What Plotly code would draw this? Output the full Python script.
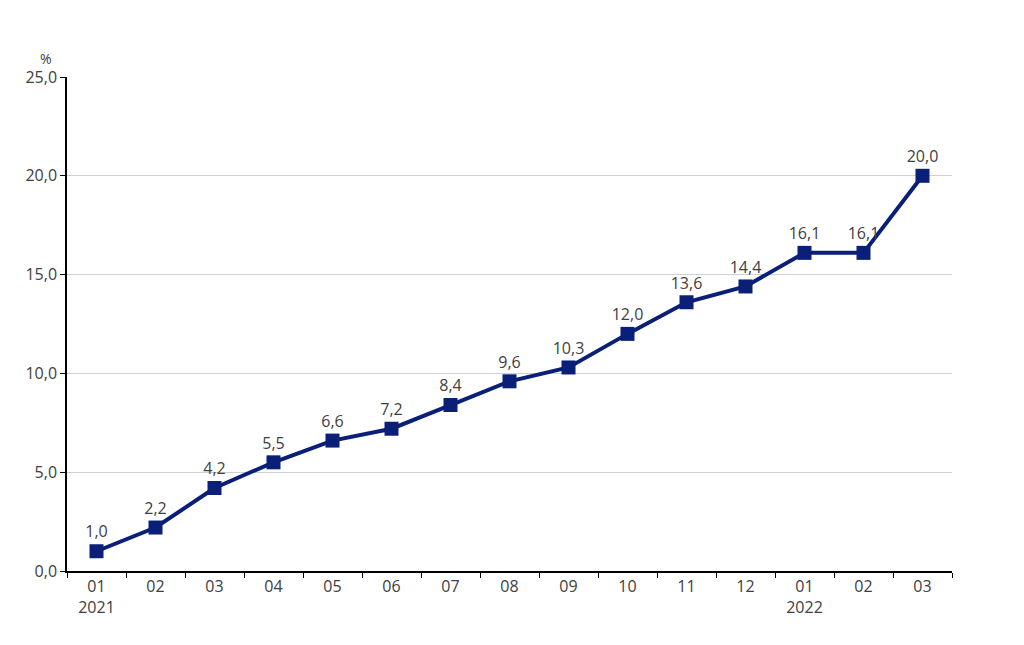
import plotly.graph_objects as go

months = ["01", "02", "03", "04", "05", "06", "07", "08", "09", "10", "11", "12", "01", "02", "03"]
years = ["2021", "", "", "", "", "", "", "", "", "", "", "", "2022", "", ""]
values = [1.0, 2.2, 4.2, 5.5, 6.6, 7.2, 8.4, 9.6, 10.3, 12.0, 13.6, 14.4, 16.1, 16.1, 20.0]
y_ticks = [0, 5, 10, 15, 20, 25]

tick_text = [f"{m}<br>{y}" if y else m for m, y in zip(months, years)]
labels = [f"{v:.1f}".replace(".", ",") for v in values]

fig = go.Figure()
fig.add_trace(
    go.Scatter(
        x=list(range(len(values))),
        y=values,
        mode="lines+markers+text",
        line=dict(color="#0a1f78", width=4),
        marker=dict(symbol="square", size=14, color="#0a1f78"),
        text=labels,
        textposition="top center",
        textfont=dict(size=16, color="#404040"),
        showlegend=False,
        cliponaxis=False,
    )
)

fig.update_layout(
    width=1024,
    height=645,
    margin=dict(l=59, r=80, t=69, b=82),
    plot_bgcolor="white",
    paper_bgcolor="white",
    font=dict(family="Open Sans", size=16, color="#404040"),
    xaxis=dict(
        range=[-0.5, 14.5],
        tickvals=list(range(len(values))),
        ticktext=tick_text,
        showline=True,
        linecolor="black",
        linewidth=1.5,
        ticks="",
        showgrid=False,
        zeroline=False,
        automargin=False,
        minor=dict(tickvals=[i + 0.5 for i in range(-1, 15)], ticks="outside",
                   ticklen=5, tickcolor="black"),
    ),
    yaxis=dict(
        range=[0, 25],
        tickvals=y_ticks,
        ticktext=[f"{t:.1f}".replace(".", ",") for t in y_ticks],
        showline=True,
        linecolor="black",
        linewidth=1.5,
        ticks="outside",
        ticklen=5,
        tickcolor="black",
        gridcolor="#d0d0d0",
        zeroline=False,
        automargin=False,
    ),
    annotations=[dict(text="%", xref="paper", yref="paper", x=-0.033, y=1.06,
                      showarrow=False, font=dict(size=14))],
)

fig.write_html("out.html")
